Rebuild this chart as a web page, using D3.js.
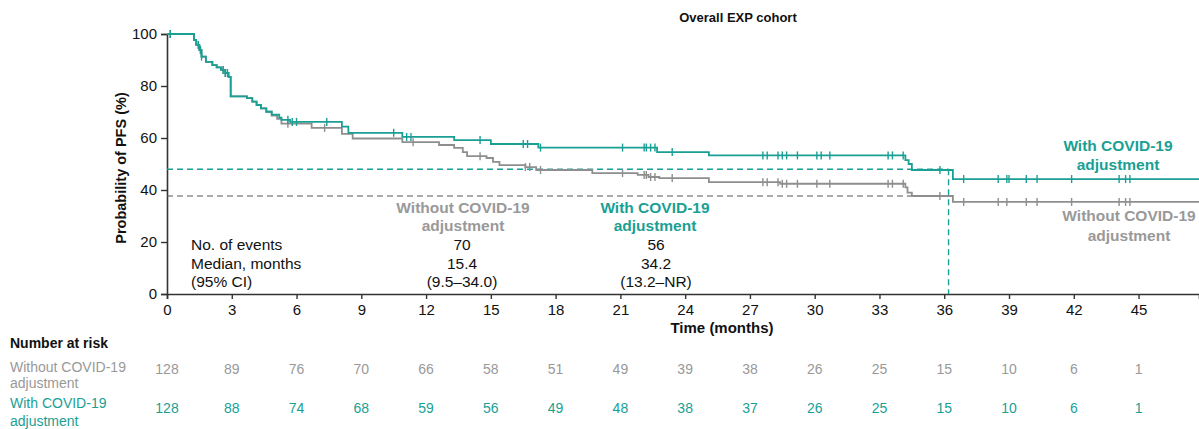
<!DOCTYPE html>
<html>
<head>
<meta charset="utf-8">
<script src="https://cdn.jsdelivr.net/npm/d3@7/dist/d3.min.js"></script>
<style>
  body { margin: 0; background: #fff; }
  svg { display: block; font-family: "Liberation Sans", Arial, sans-serif; }
</style>
</head>
<body>
<svg id="chart" width="1199" height="429"></svg>
<script>
// Kaplan–Meier step data: time (months) of each event step and PFS (%) after it
const withoutTimes  = [0, 1.25, 1.35, 1.5, 1.6, 1.8, 2.1, 2.3, 2.5, 2.7, 2.85, 2.95, 3.7, 3.95, 4.15, 4.35, 4.6, 4.85, 5.1, 5.3, 6.7, 8.1, 8.6, 10.9, 12.6, 13.3, 13.7, 13.9, 14.8, 15.1, 15.4, 16.6, 17.1, 19.7, 21.8, 22.3, 22.8, 25.1, 28.4, 34.2, 34.3, 34.5, 36.4];
const withoutValues = [100, 97.7, 95.8, 93.8, 91.3, 89.3, 88, 87.2, 86.2, 85, 83.5, 76, 75.3, 74, 72.7, 71.4, 70.1, 68.6, 67.4, 65.5, 63.9, 61.6, 59.8, 58.4, 57.3, 56.2, 54.6, 53, 52.3, 50.8, 49.6, 48.8, 47.7, 46.5, 45.8, 45, 44.6, 43, 42.4, 41, 39, 37.7, 35.4];

const withTimes  = [0, 1.25, 1.35, 1.5, 1.6, 1.8, 2.1, 2.3, 2.5, 2.7, 2.85, 2.95, 3.7, 3.95, 4.15, 4.35, 4.6, 4.85, 5.2, 5.3, 5.7, 8.1, 8.4, 10.9, 13.3, 15.0, 17.2, 22.7, 25.1, 34.2, 34.35, 34.5, 36.4];
const withValues = [100, 97.7, 95.8, 93.8, 91.3, 89.3, 88, 87.2, 86.2, 85, 83.5, 76, 75.3, 74, 72.7, 71.4, 70.1, 69, 67.8, 67, 66.2, 64.4, 62, 60.4, 59.2, 57.7, 56.3, 54.6, 53.3, 51.5, 50, 47.7, 44.2];

// Censoring times (months)
const withoutCensored = [0.15, 1.45, 1.55, 2.6, 2.7, 5.6, 7.3, 11.4, 14.5, 16.6, 16.8, 17.3, 21.1, 22.1, 22.2, 22.4, 22.6, 23.4, 27.6, 27.8, 28.3, 28.5, 28.7, 29.2, 30.1, 30.7, 33.4, 33.6, 34.1, 35.8, 36.9, 38.5, 38.9, 39.8, 40.3, 41.9, 44.1, 44.4, 44.6];
const withCensored    = [0.15, 1.45, 1.55, 1.6, 2.6, 2.7, 2.8, 5.6, 5.8, 6.0, 7.4, 10.5, 11.1, 11.3, 14.5, 16.5, 16.7, 17.3, 21.1, 22.1, 22.2, 22.4, 22.6, 23.4, 27.6, 27.8, 28.3, 28.5, 28.7, 29.2, 30.1, 30.3, 30.7, 33.4, 33.6, 34.1, 35.8, 36.9, 38.5, 38.9, 39.0, 39.8, 40.3, 41.9, 44.1, 44.4, 44.6];

// Reference lines
const withoutRefLevel = 37.7;
const withRefLevel = 48;
const withRefTime = 36.2;

const followUpEnd = 47.8;
const xTicks = [0, 3, 6, 9, 12, 15, 18, 21, 24, 27, 30, 33, 36, 39, 42, 45];
const yTicks = [0, 20, 40, 60, 80, 100];

// Number at risk at each x tick
const atRiskWithout = [128, 89, 76, 70, 66, 58, 51, 49, 39, 38, 26, 25, 15, 10, 6, 1];
const atRiskWith    = [128, 88, 74, 68, 59, 56, 49, 48, 38, 37, 26, 25, 15, 10, 6, 1];

// Summary table
const summaryRows = ["No. of events", "Median, months", "(95% CI)"];
const summaryWithout = ["70", "15.4", "(9.5–34.0)"];
const summaryWith = ["56", "34.2", "(13.2–NR)"];

const TEAL = "#1a9f95";
const GRAY = "#8e8e8e";
const GRAY_TEXT = "#999999";
const AXIS = "#333333";

const svg = d3.select("#chart");
const x = d3.scaleLinear().domain([0, followUpEnd]).range([167, 1199]);
const y = d3.scaleLinear().domain([0, 100]).range([294, 34]);

// Title
svg.append("text").attr("x", 738).attr("y", 22).attr("text-anchor", "middle")
  .attr("font-size", 13).attr("font-weight", "bold").attr("fill", "#111")
  .text("Overall EXP cohort");

// Axes
const xAxis = svg.append("g").attr("transform", `translate(0,${y(0)})`)
  .call(d3.axisBottom(x).tickValues(xTicks).tickSizeOuter(0).tickSize(5).tickPadding(5));
const yAxis = svg.append("g").attr("transform", `translate(${x(0)},0)`)
  .call(d3.axisLeft(y).tickValues(yTicks).tickSizeOuter(0).tickSize(6).tickPadding(4));
[xAxis, yAxis].forEach(g => {
  g.select(".domain").attr("stroke", AXIS).attr("stroke-width", 1.6);
  g.selectAll(".tick line").attr("stroke", AXIS).attr("stroke-width", 1.4);
  g.selectAll(".tick text").attr("fill", "#111").attr("font-size", 15)
    .attr("font-family", "Liberation Sans, Arial, sans-serif");
});

svg.append("text").attr("x", 722).attr("y", 333).attr("text-anchor", "middle")
  .attr("font-size", 15).attr("font-weight", "bold").attr("fill", "#111")
  .text("Time (months)");
svg.append("text").attr("transform", `translate(126,168) rotate(-90)`)
  .attr("text-anchor", "middle").attr("font-size", 14.5).attr("font-weight", "bold").attr("fill", "#111")
  .text("Probability of PFS (%)");

// Reference dashed lines
const dash = "6,4";
svg.append("line").attr("x1", x(0)).attr("x2", x(34.5)).attr("y1", y(withoutRefLevel)).attr("y2", y(withoutRefLevel))
  .attr("stroke", "#555").attr("stroke-width", 1.2).attr("stroke-dasharray", dash);
svg.append("line").attr("x1", x(0)).attr("x2", x(withRefTime)).attr("y1", y(withRefLevel)).attr("y2", y(withRefLevel))
  .attr("stroke", TEAL).attr("stroke-width", 1.4).attr("stroke-dasharray", dash);
svg.append("line").attr("x1", x(withRefTime)).attr("x2", x(withRefTime)).attr("y1", y(withRefLevel)).attr("y2", y(0))
  .attr("stroke", TEAL).attr("stroke-width", 1.4).attr("stroke-dasharray", dash);

// KM curves
function stepPoints(times, values) {
  const pts = times.map((t, i) => [t, values[i]]);
  pts.push([followUpEnd, values[values.length - 1]]);
  return pts;
}
function valueAt(times, values, t) {
  let v = values[0];
  for (let i = 0; i < times.length; i++) { if (times[i] <= t) v = values[i]; }
  return v;
}
const line = d3.line().x(d => x(d[0])).y(d => y(d[1])).curve(d3.curveStepAfter);

function drawCurve(times, values, censored, color, width) {
  svg.append("path").datum(stepPoints(times, values))
    .attr("fill", "none").attr("stroke", color).attr("stroke-width", width).attr("d", line);
  svg.append("g").selectAll("line").data(censored).join("line")
    .attr("x1", d => x(d)).attr("x2", d => x(d))
    .attr("y1", d => y(valueAt(times, values, d)) - 4)
    .attr("y2", d => y(valueAt(times, values, d)) + 4)
    .attr("stroke", color).attr("stroke-width", 1.4);
}
drawCurve(withoutTimes, withoutValues, withoutCensored, GRAY, 1.8);
drawCurve(withTimes, withValues, withCensored, TEAL, 1.8);

// Two-line centred labels
function twoLine(cx, cy, lines, color, weight, size, gap) {
  const t = svg.append("text").attr("text-anchor", "middle").attr("font-size", size)
    .attr("font-weight", weight).attr("fill", color);
  lines.forEach((s, i) => t.append("tspan").attr("x", cx).attr("y", cy + i * gap).text(s));
}
// Group labels on the right
twoLine(1118, 151, ["With COVID-19", "adjustment"], TEAL, "bold", 15.5, 19);
twoLine(1129, 221, ["Without COVID-19", "adjustment"], GRAY_TEXT, "bold", 15.5, 20);

// Summary table
twoLine(463, 213, ["Without COVID-19", "adjustment"], GRAY_TEXT, "bold", 15.5, 18);
twoLine(655, 213, ["With COVID-19", "adjustment"], TEAL, "bold", 15.5, 18);
summaryRows.forEach((s, i) => {
  svg.append("text").attr("x", 191).attr("y", 250 + i * 18.5).attr("font-size", 15.5).attr("fill", "#111").text(s);
  svg.append("text").attr("x", 462).attr("y", 250 + i * 18.5).attr("text-anchor", "middle")
    .attr("font-size", 15.5).attr("fill", "#111").text(summaryWithout[i]);
  svg.append("text").attr("x", 656).attr("y", 250 + i * 18.5).attr("text-anchor", "middle")
    .attr("font-size", 15.5).attr("fill", "#111").text(summaryWith[i]);
});

// Number at risk table
svg.append("text").attr("x", 10).attr("y", 348).attr("font-size", 14).attr("font-weight", "bold")
  .attr("fill", "#111").text("Number at risk");
const rl1 = svg.append("text").attr("font-size", 14).attr("fill", GRAY_TEXT);
rl1.append("tspan").attr("x", 10).attr("y", 372).text("Without COVID-19");
rl1.append("tspan").attr("x", 10).attr("y", 388).text("adjustment");
const rl2 = svg.append("text").attr("font-size", 14).attr("fill", TEAL);
rl2.append("tspan").attr("x", 10).attr("y", 408).text("With COVID-19");
rl2.append("tspan").attr("x", 10).attr("y", 426).text("adjustment");

svg.append("g").selectAll("text").data(atRiskWithout).join("text")
  .attr("x", (d, i) => x(xTicks[i])).attr("y", 374).attr("text-anchor", "middle")
  .attr("font-size", 14).attr("fill", GRAY_TEXT).text(d => d);
svg.append("g").selectAll("text").data(atRiskWith).join("text")
  .attr("x", (d, i) => x(xTicks[i])).attr("y", 413).attr("text-anchor", "middle")
  .attr("font-size", 14).attr("fill", TEAL).text(d => d);
</script>
</body>
</html>
